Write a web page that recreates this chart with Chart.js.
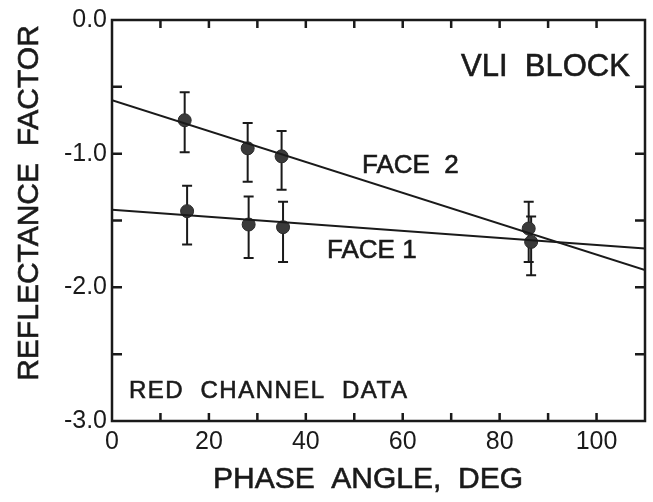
<!DOCTYPE html>
<html>
<head>
<meta charset="utf-8">
<script src="https://cdn.jsdelivr.net/npm/chart.js@4.4.1/dist/chart.umd.min.js"></script>
<style>
  html, body { margin: 0; padding: 0; background: #fff; }
  #wrap { width: 653px; height: 502px; }
</style>
</head>
<body>
<div id="wrap"><canvas id="grafico" width="653" height="502"></canvas></div>
<script>
// face 2 measurements
var phaseFace2 = [15, 28, 35, 86];
var refFace2 = [-0.75, -0.96, -1.02, -1.56];
var errTopFace2 = [-0.54, -0.77, -0.83, -1.36];
var errBotFace2 = [-0.99, -1.21, -1.27, -1.81];

// face 1 measurements
var phaseFace1 = [15.5, 28.2, 35.3, 86.5];
var refFace1 = [-1.43, -1.53, -1.55, -1.66];
var errTopFace1 = [-1.24, -1.32, -1.36, -1.47];
var errBotFace1 = [-1.68, -1.78, -1.81, -1.91];

// fitted lines (end points)
var fitPhase = [0, 110];
var fitFace2 = [-0.60, -1.87];
var fitFace1 = [-1.42, -1.71];

var xTicks = [0, 20, 40, 60, 80, 100];
var yTicks = [0, -1, -2, -3];

var fonte = "'Liberation Sans', Arial, sans-serif";
var tinta = "#1a1a1a";

function pontos(xs, ys) {
  return xs.map((x, i) => ({ x: x, y: ys[i] }));
}

function texto(ctx, s, x, y) {
  ctx.fillText(s, x, y);
  ctx.strokeText(s, x, y);
}

var errosPlugin = {
  id: "erros",
  beforeDatasetsDraw(chart) {
    var ctx = chart.ctx;
    var xs = chart.scales.x;
    var ys = chart.scales.y;
    var grupos = [
      [phaseFace2, errTopFace2, errBotFace2],
      [phaseFace1, errTopFace1, errBotFace1],
    ];
    ctx.save();
    ctx.strokeStyle = tinta;
    ctx.lineWidth = 2;
    grupos.forEach(g => {
      g[0].forEach((p, i) => {
        var px = xs.getPixelForValue(p);
        var t = ys.getPixelForValue(g[1][i]);
        var b = ys.getPixelForValue(g[2][i]);
        ctx.beginPath();
        ctx.moveTo(px, t); ctx.lineTo(px, b);
        ctx.moveTo(px - 5, t); ctx.lineTo(px + 5, t);
        ctx.moveTo(px - 5, b); ctx.lineTo(px + 5, b);
        ctx.stroke();
      });
    });
    ctx.restore();
  },
  afterDraw(chart) {
    var ctx = chart.ctx;
    var a = chart.chartArea;
    var xs = chart.scales.x;
    var ys = chart.scales.y;
    ctx.save();
    ctx.strokeStyle = tinta;
    ctx.lineWidth = 2.5;
    ctx.strokeRect(a.left, a.top, a.right - a.left, a.bottom - a.top);

    // inward ticks
    ctx.beginPath();
    for (var v = 10; v < 110; v += 10) {
      var px = xs.getPixelForValue(v);
      ctx.moveTo(px, a.bottom); ctx.lineTo(px, a.bottom - 8);
      ctx.moveTo(px, a.top); ctx.lineTo(px, a.top + 8);
    }
    for (var w = -0.5; w > -3; w -= 0.5) {
      var py = ys.getPixelForValue(w);
      ctx.moveTo(a.left, py); ctx.lineTo(a.left + 10, py);
      ctx.moveTo(a.right, py); ctx.lineTo(a.right - 10, py);
    }
    ctx.stroke();

    // texts
    ctx.fillStyle = tinta;
    ctx.lineWidth = 0.6;
    ctx.textBaseline = "alphabetic";
    ctx.textAlign = "left";
    ctx.font = "31px " + fonte;
    texto(ctx, "VLI  BLOCK", 461, 76);
    ctx.font = "26px " + fonte;
    texto(ctx, "FACE  2", 362, 173);
    texto(ctx, "FACE 1", 327, 258);
    ctx.font = "24px " + fonte;
    ctx.letterSpacing = "1.5px";
    texto(ctx, "RED  CHANNEL  DATA", 129, 398);
    ctx.letterSpacing = "0px";

    ctx.textAlign = "center";
    ctx.font = "30px " + fonte;
    texto(ctx, "PHASE  ANGLE,  DEG", 368, 488);

    ctx.translate(38, 203);
    ctx.rotate(-Math.PI / 2);
    texto(ctx, "REFLECTANCE  FACTOR", 0, 0);
    ctx.restore();
  },
};

new Chart(document.getElementById("grafico"), {
  type: "scatter",
  data: {
    datasets: [
      {
        label: "Face 2 fit",
        data: pontos(fitPhase, fitFace2),
        showLine: true,
        borderColor: tinta,
        borderWidth: 2,
        pointRadius: 0,
      },
      {
        label: "Face 1 fit",
        data: pontos(fitPhase, fitFace1),
        showLine: true,
        borderColor: tinta,
        borderWidth: 2,
        pointRadius: 0,
      },
      {
        label: "Face 2",
        data: pontos(phaseFace2, refFace2),
        pointRadius: 6.5,
        backgroundColor: "#3a3a3a",
        borderColor: "#2a2a2a",
        borderWidth: 1,
      },
      {
        label: "Face 1",
        data: pontos(phaseFace1, refFace1),
        pointRadius: 6.5,
        backgroundColor: "#3a3a3a",
        borderColor: "#2a2a2a",
        borderWidth: 1,
      },
    ],
  },
  options: {
    responsive: false,
    animation: false,
    events: [],
    layout: { padding: { left: 0, right: 8, top: 18, bottom: 0 } },
    plugins: { legend: { display: false }, tooltip: { enabled: false } },
    scales: {
      x: {
        type: "linear",
        min: 0,
        max: 110,
        grid: { display: false, drawTicks: false },
        border: { display: false },
        afterFit(scale) { scale.height = 81; },
        afterBuildTicks(scale) { scale.ticks = xTicks.map(v => ({ value: v })); },
        ticks: {
          padding: 6,
          color: tinta,
          font: { family: fonte, size: 25 },
          maxRotation: 0,
          autoSkip: false,
        },
      },
      y: {
        type: "linear",
        min: -3,
        max: 0,
        grid: { display: false, drawTicks: false },
        border: { display: false },
        afterFit(scale) { scale.width = 112; },
        afterBuildTicks(scale) { scale.ticks = yTicks.map(v => ({ value: v })); },
        ticks: {
          padding: 5,
          color: tinta,
          font: { family: fonte, size: 25 },
          callback: v => v.toFixed(1),
        },
      },
    },
  },
  plugins: [errosPlugin],
});
</script>
</body>
</html>
